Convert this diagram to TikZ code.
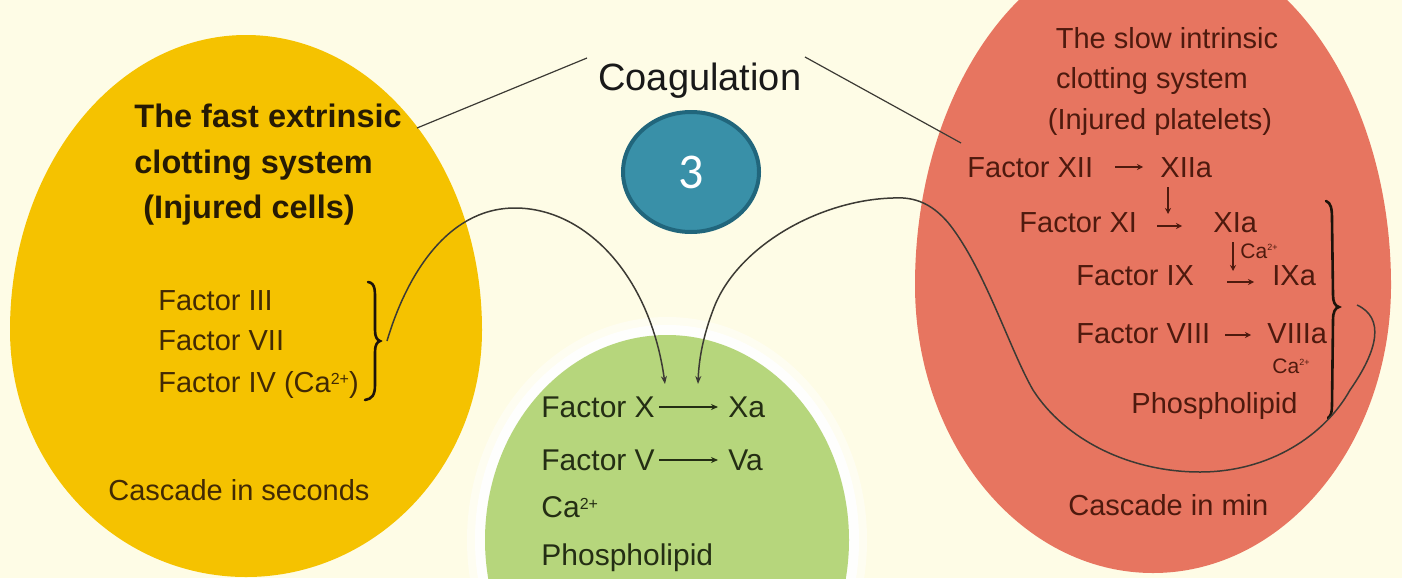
\documentclass[tikz,border=0pt]{standalone}
\usepackage{fontspec}
\setmainfont{Liberation Sans}
\newfontfamily\digitfont{Carlito}
\usetikzlibrary{shapes.geometric,arrows.meta}

\definecolor{bgcream}{RGB}{254,252,230}
\definecolor{eggyellow}{RGB}{245,194,0}
\definecolor{eggred}{RGB}{231,117,96}
\definecolor{leafgreen}{RGB}{182,214,124}
\definecolor{tealfill}{RGB}{57,144,168}
\definecolor{tealedge}{RGB}{33,102,124}
\definecolor{titleink}{RGB}{38,26,4}
\definecolor{brownink}{RGB}{66,42,4}
\definecolor{redink}{RGB}{78,26,14}
\definecolor{greenink}{RGB}{36,46,20}
\definecolor{wire}{RGB}{60,58,52}

% small raised charge label
\newcommand{\chg}[2]{\raisebox{#2}{\fontsize{#1}{#1}\selectfont 2+}}

\begin{document}
\begin{tikzpicture}[x=0.5pt,y=-0.5pt,
  lbl/.style={inner sep=0pt, anchor=base west},
  ytitle/.style={lbl, text=titleink, font=\bfseries\fontsize{16.25}{19}\selectfont},
  yfac/.style={lbl, text=brownink, font=\fontsize{14.5}{17}\selectfont},
  gtxt/.style={lbl, text=greenink, font=\fontsize{15}{18}\selectfont},
  rtxt/.style={lbl, text=redink, font=\fontsize{14.5}{17}\selectfont},
  rsmall/.style={lbl, text=redink, font=\fontsize{10.5}{12}\selectfont},
  pointer/.style={line width=0.6pt, draw=wire},
  curvearrow/.style={line width=0.75pt, draw=wire, -{Stealth[length=4pt,width=3pt]}},
  rxn/.style={line width=0.7pt, draw=redink, -{Stealth[length=3pt,width=3pt]}},
  gxn/.style={line width=0.7pt, draw=greenink, -{Stealth[length=3.5pt,width=3pt]}},
  bracepen/.style={line width=1.3pt, draw=black!85!brown, line cap=round}
]
\useasboundingbox (0,0) rectangle (1402,578);
\clip (0,0) rectangle (1402,578);
\fill[bgcream] (0,0) rectangle (1402,578);

% extrinsic system (yellow egg)
\fill[eggyellow] (10,330) arc[start angle=180, end angle=360, x radius=236, y radius=295]
  arc[start angle=0, end angle=180, x radius=236, y radius=247] -- cycle;

% intrinsic system (red egg)
\fill[eggred] (915,285) arc[start angle=180, end angle=360, x radius=238, y radius=345]
  arc[start angle=0, end angle=180, x radius=238, y radius=288] -- cycle;

% common pathway (green disc with white glow)
\fill[white, opacity=0.45] (667,540) ellipse [x radius=200, y radius=223];
\fill[white, opacity=0.9] (667,540) ellipse [x radius=192, y radius=215];
\fill[leafgreen] (667,540) ellipse [x radius=182, y radius=205];

% step badge
\node[ellipse, draw=tealedge, line width=2pt, fill=tealfill,
      minimum width=68pt, minimum height=60pt, inner sep=0pt,
      text=white, font=\digitfont\fontsize{25}{30}\selectfont] (badge) at (691,172) {3};

% heading and its pointers
\node[lbl, text=black!90, font=\fontsize{19}{23}\selectfont] (coag) at (598,90) {Coagulation};
\coordinate (cL) at (587,58);
\coordinate (cLend) at (417,128);
\coordinate (cR) at (805,57);
\coordinate (cRend) at (961,143);
\draw[pointer] (cL) -- (cLend);
\draw[pointer] (cR) -- (cRend);

% extrinsic texts
\node[ytitle] (yt1) at (134,127) {The fast extrinsic};
\node[ytitle] (yt2) at (134,173) {clotting system};
\node[ytitle] (yt3) at (143,218) {(Injured cells)};
\node[yfac] (yf3) at (158,310) {Factor III};
\node[yfac] (yf7) at (158,350) {Factor VII};
\node[yfac] (yf4) at (158,392) {Factor IV (Ca\chg{8}{3.6pt})};
\node[yfac] (ysec) at (108,500) {Cascade in seconds};

% extrinsic brace
\draw[bracepen] (368,282) .. controls (376,283) and (375,292) .. (375,305) -- (375,330)
  .. controls (375,337) and (377,340) .. (380,341) .. controls (377,342) and (375,345) .. (375,352)
  -- (375,385) .. controls (375,395) and (372,399) .. (365,400);

% common pathway texts
\node[gtxt] (gfx) at (541,417) {Factor X};
\node[gtxt] (gxa) at (728,417) {Xa};
\node[gtxt] (gfv) at (541,470) {Factor V};
\node[gtxt] (gva) at (728,470) {Va};
\node[gtxt] (gca) at (541,517) {Ca\chg{8}{4pt}};
\node[gtxt] (gph) at (541,565) {Phospholipid};
\coordinate (gxs) at (659,407);
\coordinate (gxe) at (718,407);
\coordinate (gvs) at (659,460);
\coordinate (gve) at (718,460);
\draw[gxn] (gxs) -- (gxe);
\draw[gxn] (gvs) -- (gve);

% intrinsic texts
\node[rtxt, anchor=base] (rt1) at (1167,48) {The slow intrinsic};
\node[rtxt, anchor=base] (rt2) at (1152,88) {clotting system};
\node[rtxt, anchor=base] (rt3) at (1160,129) {(Injured platelets)};
\node[rtxt] (rf12) at (967,177) {Factor XII};
\node[rtxt] (r12a) at (1160,177) {XIIa};
\node[rtxt] (rf11) at (1019,232) {Factor XI};
\node[rtxt] (r11a) at (1213,232) {XIa};
\node[rsmall] (rca1) at (1240,258) {Ca\chg{4.5}{4pt}};
\node[rtxt] (rf9) at (1076,285) {Factor IX};
\node[rtxt] (r9a) at (1272,285) {IXa};
\node[rtxt] (rf8) at (1076,343) {Factor VIII};
\node[rtxt] (r8a) at (1267,343) {VIIIa};
\node[rsmall] (rca2) at (1272,373) {Ca\chg{4.5}{4pt}};
\node[rtxt] (rph) at (1131,413) {Phospholipid};
\node[rtxt] (rmin) at (1068,515) {Cascade in min};

% intrinsic reaction arrows
\coordinate (a12s) at (1115,167);  \coordinate (a12e) at (1143,167);
\coordinate (d1s)  at (1168,187);  \coordinate (d1e)  at (1168,214);
\coordinate (a11s) at (1157,226);  \coordinate (a11e) at (1182,226);
\coordinate (d2s)  at (1233,242);  \coordinate (d2e)  at (1233,271);
\coordinate (a9s)  at (1227,282);  \coordinate (a9e)  at (1254,282);
\coordinate (a8s)  at (1225,335);  \coordinate (a8e)  at (1251,335);
\draw[rxn] (a12s) -- (a12e);
\draw[rxn] (d1s) -- (d1e);
\draw[rxn] (a11s) -- (a11e);
\draw[rxn] (d2s) -- (d2e);
\draw[rxn] (a9s) -- (a9e);
\draw[rxn] (a8s) -- (a8e);

% intrinsic brace
\draw[bracepen] (1326,201) .. controls (1331,203) and (1332,208) .. (1332,220) -- (1333,295)
  .. controls (1333,302) and (1335,306) .. (1339,307) .. controls (1335,308) and (1333,312) .. (1333,320)
  -- (1332,405) .. controls (1332,412) and (1331,416) .. (1328,418);

% feeds into factor X activation
\coordinate (ytip) at (387,341);
\coordinate (xin1) at (665,384);
\coordinate (rtip) at (1357,305);
\coordinate (xin2) at (698,384);
\draw[curvearrow] (ytip) .. controls (405,280) and (445,208) .. (515,208)
  .. controls (585,208) and (650,275) .. (xin1);
\draw[curvearrow] (rtip) .. controls (1385,318) and (1378,350) .. (1350,390)
  .. controls (1325,435) and (1270,472) .. (1200,472)
  .. controls (1130,472) and (1065,440) .. (1033,390)
  .. controls (1010,350) and (985,270) .. (950,225)
  .. controls (930,200) and (910,197) .. (893,198)
  .. controls (820,200) and (740,245) .. (715,305)
  .. controls (705,330) and (699,355) .. (xin2);
\end{tikzpicture}
\end{document}
